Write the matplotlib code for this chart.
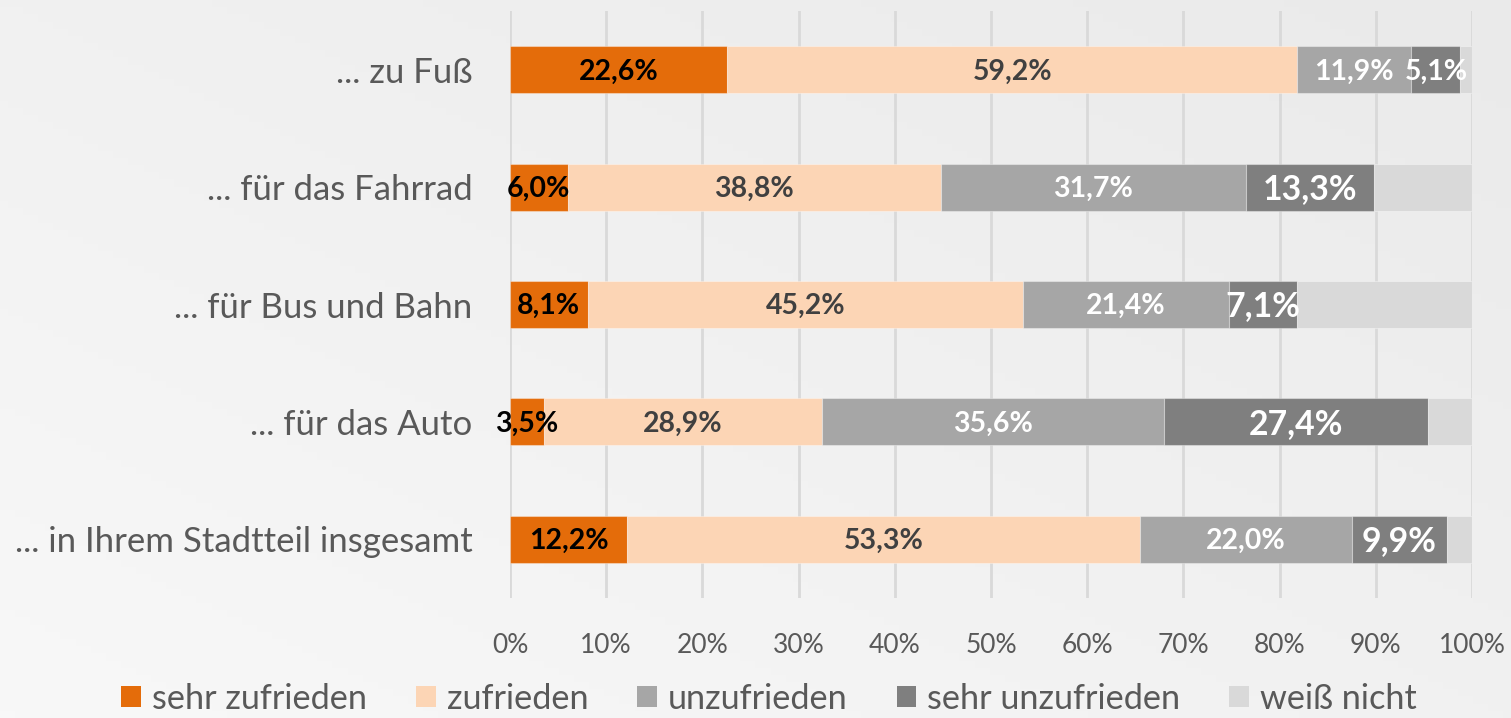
import numpy as np
import matplotlib
matplotlib.use("Agg")
import matplotlib.pyplot as plt
from matplotlib.patches import Patch

plt.rcParams['font.family'] = ['Lato', 'DejaVu Sans']

categories = ["... zu Fuß", "... für das Fahrrad", "... für Bus und Bahn",
              "... für das Auto", "... in Ihrem Stadtteil insgesamt"]
series = ["sehr zufrieden", "zufrieden", "unzufrieden", "sehr unzufrieden", "weiß nicht"]

sehr_zufrieden = [22.6, 6.0, 8.1, 3.5, 12.2]
zufrieden = [59.2, 38.8, 45.2, 28.9, 53.3]
unzufrieden = [11.9, 31.7, 21.4, 35.6, 22.0]
sehr_unzufrieden = [5.1, 13.3, 7.1, 27.4, 9.9]
weiss_nicht = [1.2, 10.2, 18.2, 4.6, 2.6]

values = [sehr_zufrieden, zufrieden, unzufrieden, sehr_unzufrieden, weiss_nicht]
colors = ["#E46C0A", "#FCD5B5", "#A6A6A6", "#7F7F7F", "#D9D9D9"]
label_colors = ["black", "#404040", "white", "white", None]

fig = plt.figure(figsize=(15.11, 7.18), dpi=100)

# background gradient
bg = fig.add_axes([0, 0, 1, 1], zorder=-10)
xx, yy = np.meshgrid(np.linspace(0, 1, 200), np.linspace(0, 1, 100))
grad = 0.5 * xx + 0.5 * (1 - yy)
bg.imshow(grad, cmap=matplotlib.colors.LinearSegmentedColormap.from_list(
    "bg", ["#f8f8f8", "#eaeaea"]), aspect='auto', extent=[0, 1, 0, 1], origin='upper')
bg.axis('off')

ax = fig.add_axes([0.3375, 0.1671, 0.9742 - 0.3375, 0.9847 - 0.1671])
ax.patch.set_alpha(0)

y = np.arange(len(categories))
left = np.zeros(len(categories))
for i, (name, vals) in enumerate(zip(series, values)):
    vals = np.array(vals)
    ax.barh(y, vals, left=left, height=0.4, color=colors[i], label=name,
            edgecolor=(1, 1, 1, 0.35), linewidth=0.8, zorder=3)
    if label_colors[i] is not None:
        for j, v in enumerate(vals):
            big = (i == 3 and v > 7)
            ax.text(left[j] + v / 2, y[j] + 0.015, f"{v:.1f}%".replace('.', ','),
                    ha='center', va='center', fontweight='bold',
                    fontsize=24.4 if big else 20.5, color=label_colors[i], zorder=4)
    left += vals

ax.set_xlim(0, 100)
ax.set_ylim(4.5, -0.5)
ax.set_xticks(np.arange(0, 101, 10))
ax.set_xticklabels([f"{t}%" for t in range(0, 101, 10)])
ax.set_yticks(y)
ax.set_yticklabels(categories)
ax.tick_params(axis='x', length=0, pad=25, labelsize=19, labelcolor="#595959")
ax.tick_params(axis='y', length=0, pad=27, labelsize=25, labelcolor="#595959")
ax.grid(axis='x', color="#D9D9D9", linewidth=2, zorder=0)
for s in ax.spines.values():
    s.set_visible(False)

handles = [Patch(facecolor=c, label=n) for c, n in zip(colors, series)]
fig.legend(handles=handles, loc='center', bbox_to_anchor=(0.509, 0.027), ncol=5,
           frameon=False, fontsize=24.7, labelcolor="#595959",
           handlelength=0.58, handleheight=0.6, handletextpad=0.32, columnspacing=1.42)

fig.savefig("out.png", dpi=100)
